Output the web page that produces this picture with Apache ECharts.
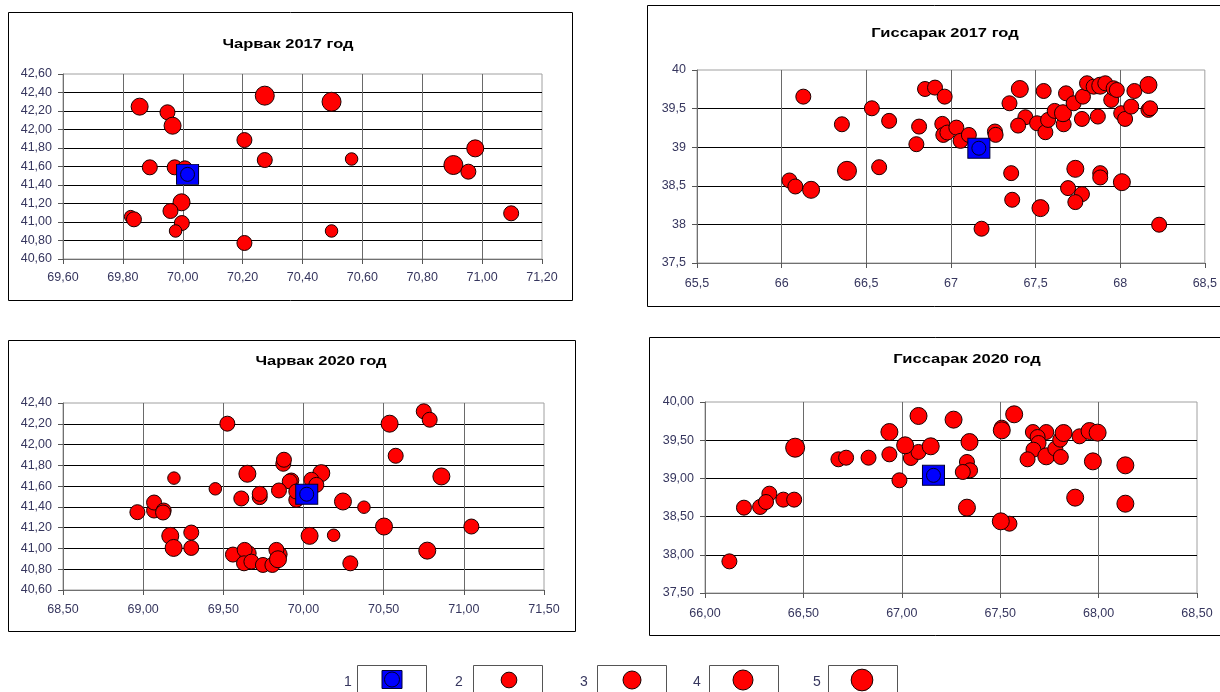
<!DOCTYPE html>
<html>
<head>
<meta charset="utf-8">
<script src="https://cdn.jsdelivr.net/npm/echarts@6/dist/echarts.min.js"></script>
<style>
html,body{margin:0;padding:0;background:#fff;}
#c{width:1220px;height:692px;}
</style>
</head>
<body>
<div id="c"></div>
<script>
// ---------- DATA ----------
const titles = ['Чарвак 2017 год', 'Гиссарак 2017 год', 'Чарвак 2020 год', 'Гиссарак 2020 год'];
const legendLabels = ['1', '2', '3', '4', '5'];

// [longitude, latitude, size class (2..5)]
const charvak2017 = [
  [69.856,42.247,4],[69.949,42.186,3],[69.966,42.041,4],[70.206,41.886,3],
  [70.274,42.366,5],[70.497,42.300,5],[70.274,41.670,3],[70.564,41.681,2],
  [70.977,41.796,4],[70.904,41.616,5],[70.954,41.544,3],[71.097,41.094,3],
  [69.890,41.591,3],[69.973,41.591,3],[70.007,41.580,3],[69.996,41.213,4],
  [69.959,41.119,3],[69.826,41.058,2],[69.837,41.029,3],[69.997,40.989,3],
  [69.976,40.903,2],[70.497,40.903,2],[70.206,40.773,3]
];
const charvak2017Center = [[70.016,41.515]];

const gissarak2017 = [
  [66.128,39.655,3],[66.046,38.569,3],[66.081,38.491,3],[66.174,38.448,4],
  [66.356,39.297,3],[66.386,38.694,5],[66.533,39.504,3],[66.576,38.741,3],
  [66.635,39.341,3],[66.812,39.267,3],[66.796,39.039,3],[66.847,39.754,3],
  [66.906,39.772,3],[66.963,39.655,3],[66.949,39.302,3],[66.955,39.159,3],
  [66.979,39.190,3],[67.032,39.254,3],[67.057,39.082,3],[67.106,39.159,3],
  [67.260,39.203,3],[67.264,39.160,3],[67.181,37.944,3],[67.346,39.569,3],
  [67.407,39.754,4],[67.440,39.388,3],[67.397,39.280,3],[67.356,38.664,3],
  [67.362,38.319,3],[67.509,39.310,3],[67.548,39.728,3],[67.558,39.194,3],
  [67.574,39.353,3],[67.529,38.211,4],[67.613,39.470,3],[67.666,39.297,3],
  [67.662,39.440,4],[67.680,39.698,3],[67.725,39.569,3],[67.774,39.366,3],
  [67.780,39.655,3],[67.804,39.828,3],[67.843,39.784,3],[67.868,39.397,3],
  [67.882,39.797,4],[67.912,39.828,3],[67.947,39.612,3],[67.961,39.763,3],
  [67.980,39.741,3],[68.006,39.440,3],[68.029,39.366,3],[68.065,39.526,3],
  [68.084,39.728,3],[68.167,39.806,4],[68.167,39.483,3],[68.177,39.504,3],
  [67.735,38.720,4],[67.692,38.470,3],[67.774,38.392,3],[67.735,38.289,3],
  [67.882,38.664,3],[67.882,38.608,3],[68.010,38.547,4],[68.230,37.996,3]
];
const gissarak2017Center = [[67.165,38.987]];

const charvak2020 = [
  [69.525,42.201,3],[70.537,42.201,4],[70.750,42.320,3],[70.787,42.239,3],
  [70.575,41.892,3],[70.860,41.693,4],[69.874,41.815,3],[69.878,41.854,3],
  [69.650,41.719,4],[70.111,41.725,4],[70.049,41.661,3],[70.080,41.612,3],
  [69.924,41.654,3],[69.914,41.645,3],[69.192,41.677,2],[69.450,41.574,2],
  [69.612,41.481,3],[69.727,41.494,3],[69.727,41.526,3],[69.847,41.558,3],
  [69.955,41.468,3],[69.955,41.548,3],[70.246,41.452,4],[70.377,41.397,2],
  [69.068,41.365,3],[69.068,41.442,3],[68.964,41.349,3],[69.128,41.365,3],
  [69.124,41.346,3],[69.169,41.121,4],[69.190,41.005,4],[69.300,41.153,3],
  [69.300,41.005,3],[70.038,41.121,4],[70.188,41.127,2],[70.502,41.211,4],
  [71.047,41.211,3],[70.772,40.979,4],[70.292,40.857,3],[69.560,40.941,3],
  [69.658,40.953,3],[69.633,40.986,3],[69.629,40.857,3],[69.675,40.873,3],
  [69.747,40.841,3],[69.806,40.841,3],[69.851,40.944,3],[69.831,40.986,3],
  [69.841,40.896,4]
];
const charvak2020Center = [[70.020,41.522]];

const gissarak2020 = [
  [66.124,37.914,3],[66.198,38.617,3],[66.280,38.626,3],[66.327,38.800,3],
  [66.310,38.691,3],[66.398,38.722,3],[66.453,38.722,3],[66.458,39.402,5],
  [66.678,39.250,3],[66.717,39.271,3],[66.831,39.271,3],[66.937,39.315,3],
  [66.937,39.607,4],[66.988,38.975,3],[67.085,39.817,4],[67.046,39.267,3],
  [67.085,39.346,3],[67.017,39.433,4],[67.147,39.420,4],[67.263,39.769,4],
  [67.344,39.476,4],[67.331,39.215,3],[67.347,39.106,3],[67.310,39.084,3],
  [67.331,38.617,4],[67.508,39.664,3],[67.508,39.629,4],[67.571,39.839,4],
  [67.547,38.407,3],[67.503,38.438,4],[67.666,39.607,3],[67.734,39.607,3],
  [67.690,39.542,3],[67.695,39.463,3],[67.669,39.376,3],[67.639,39.250,3],
  [67.734,39.289,4],[67.780,39.389,3],[67.808,39.280,3],[67.805,39.507,3],
  [67.822,39.594,4],[67.903,39.551,3],[67.954,39.620,4],[67.995,39.599,4],
  [67.971,39.223,4],[67.881,38.748,4],[68.136,39.171,4],[68.136,38.669,4]
];
const gissarak2020Center = [[67.161,39.040]];

// ---------- STYLE ----------
const FONT = "'Liberation Sans', Arial, sans-serif";
const LABEL_COLOR = '#36365e';
const SIZE = {2: 12.5, 3: 15, 4: 17, 5: 19};
const LEG_SIZE = {2: 15.7, 3: 18, 4: 20, 5: 21.7};

const fmt2 = v => (+v).toFixed(2).replace('.', ',');
const fmtG = v => String(+(+v).toFixed(1)).replace('.', ',');

const grids = [
  {left: 63, top: 74, width: 479, height: 185},
  {left: 697, top: 70, width: 509, height: 193},
  {left: 63, top: 403, width: 481, height: 187},
  {left: 705, top: 402, width: 492, height: 191}
];
const axesCfg = [
  {x: [69.6, 71.2, 0.2], y: [40.6, 42.6, 0.2], f: fmt2, xm: 12},
  {x: [65.5, 68.5, 0.5], y: [37.5, 40, 0.5], f: fmtG, xm: 14},
  {x: [68.5, 71.5, 0.5], y: [40.6, 42.4, 0.2], f: fmt2, xm: 13},
  {x: [66, 68.5, 0.5], y: [37.5, 40, 0.5], f: fmt2, xm: 14}
];
const panelData = [
  [charvak2017, charvak2017Center],
  [gissarak2017, gissarak2017Center],
  [charvak2020, charvak2020Center],
  [gissarak2020, gissarak2020Center]
];

const xAxes = [], yAxes = [], series = [];
axesCfg.forEach((a, i) => {
  xAxes.push({
    type: 'value', gridIndex: i, min: a.x[0], max: a.x[1], interval: a.x[2],
    axisLine: {show: true, lineStyle: {color: '#707070', width: 1}},
    axisTick: {show: true, length: 5, inside: false, lineStyle: {color: '#555'}},
    axisLabel: {formatter: a.f, color: LABEL_COLOR, fontFamily: FONT, fontSize: 12.5, margin: a.xm, showMinLabel: true, showMaxLabel: true},
    splitLine: {show: true, showMinLine: false, showMaxLine: false, lineStyle: {color: '#6a6a6a', width: 1}}
  });
  yAxes.push({
    type: 'value', gridIndex: i, min: a.y[0], max: a.y[1], interval: a.y[2],
    axisLine: {show: true, lineStyle: {color: '#707070', width: 1}},
    axisTick: {show: true, length: 5, inside: false, lineStyle: {color: '#555'}},
    axisLabel: {formatter: a.f, color: LABEL_COLOR, fontFamily: FONT, fontSize: 12.5, margin: 11, showMinLabel: true, showMaxLabel: true},
    splitLine: {show: true, showMinLine: false, showMaxLine: false, lineStyle: {color: '#000', width: 1}}
  });
  const [red, center] = panelData[i];
  series.push({
    type: 'scatter', xAxisIndex: i, yAxisIndex: i, data: red,
    symbol: 'circle', symbolSize: v => SIZE[v[2]],
    itemStyle: {color: '#ff0000', borderColor: '#1a0000', borderWidth: 1, opacity: 1},
    emphasis: {disabled: true}, z: 3
  });
  series.push({
    type: 'scatter', xAxisIndex: i, yAxisIndex: i, data: center,
    symbol: 'rect', symbolSize: [22, 20],
    itemStyle: {color: '#0000ff', borderColor: '#000033', borderWidth: 1, opacity: 1},
    emphasis: {disabled: true}, z: 4
  });
  series.push({
    type: 'scatter', xAxisIndex: i, yAxisIndex: i, data: center,
    symbol: 'circle', symbolSize: 14,
    itemStyle: {color: '#0000ff', borderColor: '#000022', borderWidth: 1, opacity: 1},
    emphasis: {disabled: true}, z: 5
  });
});

// ---------- decorations ----------
const graphic = [];
// panel frames
[[8.5, 12.5, 564, 288], [647.5, 5.5, 600, 301], [8.5, 340.5, 567, 291], [649.5, 337.5, 600, 298]].forEach(r => {
  graphic.push({type: 'rect', shape: {x: r[0], y: r[1], width: r[2], height: r[3]}, style: {fill: 'none', stroke: '#000', lineWidth: 1}, silent: true, z: -10});
});
// titles (horizontally stretched like the original)
[[288, 44], [945, 33], [321, 361], [967, 359]].forEach((p, i) => {
  graphic.push({type: 'text', x: p[0], y: p[1], scaleX: 1.27, scaleY: 1,
    style: {text: titles[i], fill: '#000', font: 'bold 13px ' + FONT, align: 'center', verticalAlign: 'middle'}, silent: true});
});
// legend
const legX = [[348, 357, 392], [459, 473, 509], [584, 597, 632], [697, 709, 743], [817, 828, 862]];
legX.forEach((p, i) => {
  graphic.push({type: 'text', x: p[0], y: 682, style: {text: legendLabels[i], fill: LABEL_COLOR, font: '14px ' + FONT, align: 'center', verticalAlign: 'middle'}, silent: true});
  graphic.push({type: 'rect', shape: {x: p[1] + 0.5, y: 665.5, width: 69, height: 40}, style: {fill: 'none', stroke: '#555', lineWidth: 1}, silent: true});
  if (i === 0) {
    graphic.push({type: 'rect', shape: {x: p[2] - 10, y: 670.5, width: 20, height: 18}, style: {fill: '#0000ff', stroke: '#000033', lineWidth: 1}, silent: true});
    graphic.push({type: 'circle', shape: {cx: p[2], cy: 679.5, r: 7.5}, style: {fill: '#0000ff', stroke: '#000022', lineWidth: 1}, silent: true});
  } else {
    graphic.push({type: 'circle', shape: {cx: p[2], cy: 680, r: LEG_SIZE[i + 1] / 2}, style: {fill: '#ff0000', stroke: '#1a0000', lineWidth: 1}, silent: true});
  }
});

const chart = echarts.init(document.getElementById('c'), null, {renderer: 'canvas'});
chart.setOption({
  backgroundColor: '#fff',
  animation: false,
  grid: grids.map(g => Object.assign({show: true, borderColor: '#a0a0a0', borderWidth: 1, backgroundColor: '#fff'}, g)),
  xAxis: xAxes,
  yAxis: yAxes,
  series: series,
  graphic: graphic
});
</script>
</body>
</html>
